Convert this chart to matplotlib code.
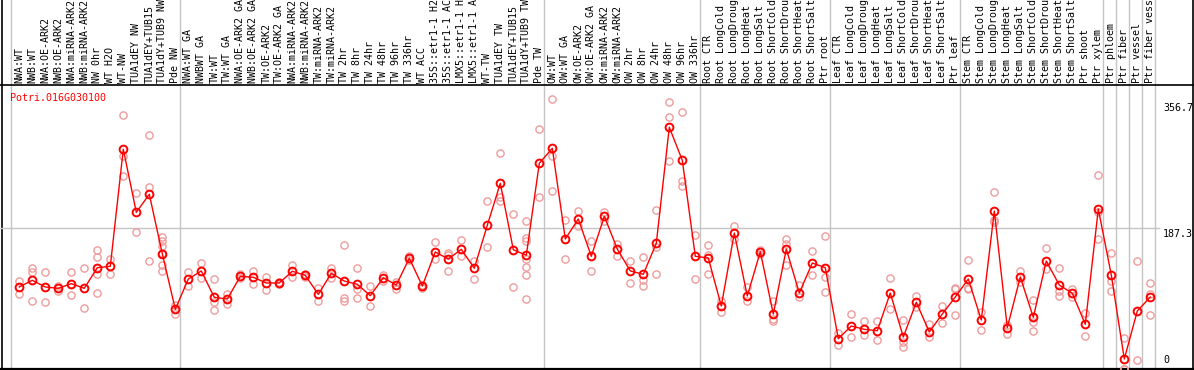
import matplotlib
matplotlib.use("Agg")
import matplotlib.pyplot as plt
import matplotlib.transforms as mtransforms

gene = "Potri.016G030100"

labels = [
    "NWA:WT", "NWB:WT", "NWA:OE-ARK2", "NWB:OE-ARK2", "NWA:miRNA-ARK2", "NWB:miRNA-ARK2",
    "NW 0hr", "WT H2O", "WT-NW", "TUA1dEY NW", "TUA1dEY+TUB15", "TUA1dY+TUB9 NW", "Pde NW",
    "NWA:WT GA", "NWBWT GA", "TW:WT", "TW:WT GA", "NWA:OE-ARK2 GA", "NWB:OE-ARK2 GA",
    "TW:OE-ARK2", "TW:OE-ARK2 GA", "NWA:miRNA-ARK2", "NWB:miRNA-ARK2", "TW:miRNA-ARK2",
    "TW:miRNA-ARK2", "TW 2hr", "TW 8hr", "TW 24hr", "TW 48hr", "TW 96hr", "TW 336hr",
    "WT ACC", "35S::etr1-1 H2", "35S::etr1-1 AC", "LMX5::etr1-1 H", "LMX5::etr1-1 A",
    "WT-TW", "TUA1dEY TW", "TUA1dEY+TUB15", "TUA1dY+TUB9 TW", "Pde TW",
    "OW:WT", "OW:WT GA", "OW:OE-ARK2", "OW:OE-ARK2 GA", "OW:miRNA-ARK2", "OW:miRNA-ARK2",
    "OW 2hr", "OW 8hr", "OW 24hr", "OW 48hr", "OW 96hr", "OW 336hr",
    "Root CTR", "Root LongCold", "Root LongDroug", "Root LongHeat", "Root LongSalt",
    "Root ShortCold", "Root ShortDrou", "Root ShortHeat", "Root ShortSalt", "Ptr root",
    "Leaf CTR", "Leaf LongCold", "Leaf LongDroug", "Leaf LongHeat", "Leaf LongSalt",
    "Leaf ShortCold", "Leaf ShortDrou", "Leaf ShortHeat", "Leaf ShortSalt", "Ptr leaf",
    "Stem CTR", "Stem LongCold", "Stem LongDroug", "Stem LongHeat", "Stem LongSalt",
    "Stem ShortCold", "Stem ShortDrou", "Stem ShortHeat", "Stem ShortSalt", "Ptr shoot",
    "Ptr xylem", "Ptr phloem", "Ptr fiber", "Ptr vessel", "Ptr fiber vess",
]

# last sample index of each group (group separators drawn after these)
group_ends = [-1, 12, 40, 52, 62, 72, 83, 84, 85, 86, 87]

means = [
    109.2, 118.1, 109.2, 107.4, 113.6, 107.4, 134.9, 136.7, 292.5, 208.6, 232.6, 153.5, 79.5,
    119.8, 130.5, 95.4, 93.2, 123.4, 122.1, 114.5, 114.5, 130.1, 124.7, 99.4, 127.4, 117.1,
    112.8, 97.6, 121.5, 111.8, 147.4, 110.5, 155.8, 146.4, 159.3, 134.1, 191.3, 247.2, 158.8,
    151.4, 273.8,
    293.8, 173.1, 199.7, 150.0, 203.3, 159.7, 130.5, 126.1, 167.3, 321.8, 277.8, 150.0,
    147.8, 83.9, 181.0, 97.2, 156.2, 73.2, 159.7, 101.2, 141.1, 134.9,
    40.3, 57.2, 52.8, 51.0, 101.2, 42.6, 88.8, 49.3, 73.2, 95.8,
    119.8, 65.2, 210.3, 55.0, 122.5, 68.8, 143.8, 111.8, 100.8, 59.5, 213.0,
    125.1, 13.3, 77.2, 95.8,
]

replicates = [
    [117, 100], [134, 129, 91], [129, 89], [111, 104], [129, 98], [134, 81],
    [158, 149, 127, 101], [146, 126], [338, 284, 257], [234, 182], [312, 242, 144],
    [176, 171, 164, 155, 138, 131], [85, 73],
    [129, 111], [141, 121], [120, 89, 79], [100, 86], [126, 121], [131, 113], [122, 105],
    [116, 113], [138, 122], [127, 122], [108, 91], [135, 121], [165, 94, 91], [135, 106, 94],
    [111, 84], [125, 117], [116, 107], [150, 145], [112, 108], [169, 146], [154, 152, 131],
    [172, 151], [144, 120], [223, 162], [287, 229, 223], [207, 109],
    [197, 175, 170, 147, 136, 125, 93], [320, 229],
    [360, 284, 237], [198, 147], [210, 190], [171, 130], [209, 197], [167, 151], [144, 115],
    [149, 118, 111], [212, 162, 127], [355, 335, 277], [342, 250, 244], [179, 120],
    [165, 152, 127], [91, 76], [190, 173], [109, 91], [158, 153], [91, 67, 64],
    [173, 167, 139], [112, 96], [157, 125], [177, 123, 102],
    [48, 32], [73, 43], [64, 45], [64, 38], [121, 80], [65, 36, 29], [97, 83], [60, 43],
    [84, 61], [108, 106, 72],
    [145, 108, 106], [76, 52], [235, 199, 196], [59, 47], [130, 116], [92, 63, 51],
    [161, 133], [134, 104, 97], [106, 96], [74, 44], [258, 209, 173],
    [155, 117, 104], [41, 0, 0], [144, 12], [114, 100, 72],
]

tick_values = [356.7, 187.3, 0]

# ---------------- layout ----------------
W, H = 1194, 370
DPI = 100
fig = plt.figure(figsize=(W / DPI, H / DPI), dpi=DPI)

x0_pix, dx_pix = 19.3, 13.0
xl = ((0 - x0_pix) / dx_pix, (W - x0_pix) / dx_pix)
def px2x(p):
    return (p - x0_pix) / dx_pix

plot_top, plot_bot = 85, 369
px_per_unit = (369 - 228.3) / 187.3
ytop = (plot_bot - plot_top) / px_per_unit

FONT = "DejaVu Sans Mono"
FS = 7.2
RED = "#ff0000"
PINK = "#ee9c9c"
GRID = "#c4c4c4"

# background axes for full-height grid lines
bg = fig.add_axes([0, 0, 1, 1])
bg.set_xlim(*xl)
bg.set_ylim(0, 1)
bg.axis("off")
for e in group_ends:
    bg.axvline(e + 0.38, color=GRID, lw=1.0, zorder=1)
bg.axvline(px2x(1.5), color="black", lw=1.2, zorder=2)
bg.axvline(px2x(1193.3), color="black", lw=1.2, zorder=2)

# header axes
hax = fig.add_axes([0, (H - plot_top) / H, 1, plot_top / H])
hax.set_xlim(*xl)
hax.set_ylim(0, plot_top)
hax.axis("off")
hax.patch.set_alpha(0)
for i, lab in enumerate(labels):
    hax.text(i, 2.0, lab, rotation=90, ha="center", va="bottom",
             fontsize=FS, family=FONT, color="black", clip_on=True)

# data axes
ax = fig.add_axes([0, (H - plot_bot) / H, 1, (plot_bot - plot_top) / H])
ax.patch.set_alpha(0)
ax.set_xlim(*xl)
ax.set_ylim(0, ytop)
ax.set_xticks([])
ax.set_yticks([])
for s in ["left", "right"]:
    ax.spines[s].set_visible(False)
ax.spines["top"].set_linewidth(1.2)
ax.spines["bottom"].set_linewidth(1.6)

ax.hlines(187.3, xl[0], px2x(1160), color=GRID, lw=1.0, zorder=1)

xs = list(range(len(means)))
for i, reps in enumerate(replicates):
    ax.plot([i] * len(reps), reps, linestyle="none", marker="o", ms=5.2,
            mfc="none", mec=PINK, mew=1.0, zorder=3, clip_on=True)
ax.plot(xs, means, color=RED, lw=1.0, marker="o", ms=5.6, mfc="none",
        mec=RED, mew=1.4, zorder=4, clip_on=True)

ax.text(px2x(10), ytop - 8 / px_per_unit, gene, color=RED, fontsize=FS,
        family=FONT, ha="left", va="top")

offs = {356.7: -1.5, 187.3: -0.5, 0: None}
for v in tick_values:
    if v == 0:
        tr = mtransforms.offset_copy(ax.transData, fig=fig, x=0, y=4, units="dots")
        ax.text(px2x(1163), 0, "0", fontsize=FS, family=FONT, ha="left",
                va="bottom", transform=tr)
    else:
        tr = mtransforms.offset_copy(ax.transData, fig=fig, x=0, y=offs[v], units="dots")
        ax.text(px2x(1163), v, f"{v:.1f}", fontsize=FS, family=FONT, ha="left",
                va="top", transform=tr)

fig.savefig("out.png", dpi=DPI)
